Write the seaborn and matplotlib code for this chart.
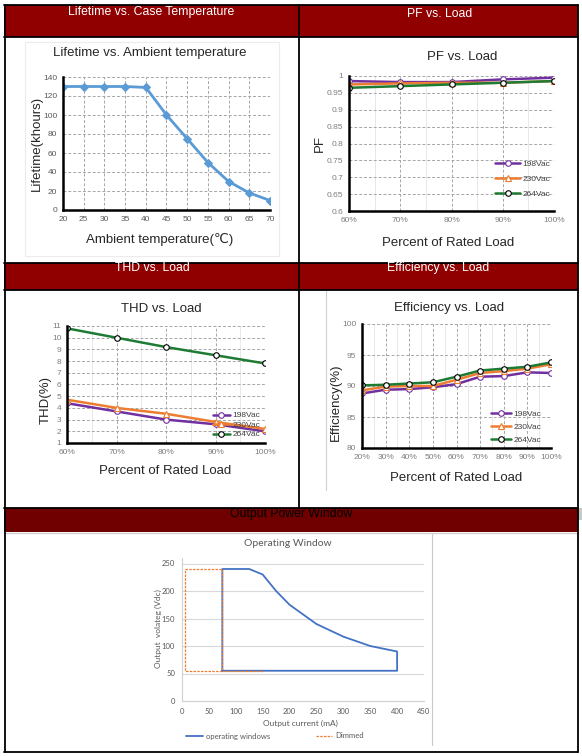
import pandas as pd
import seaborn as sns
import matplotlib.pyplot as plt
from matplotlib.patches import Rectangle
from matplotlib.lines import Line2D
from matplotlib.ticker import MultipleLocator, FuncFormatter

# ---- data ----
temp = [20, 25, 30, 35, 40, 45, 50, 55, 60, 65, 70]
lifetime = [130, 130, 130, 130, 129, 100, 75, 50, 30, 18, 10]

volt_names = ['198Vac', '230Vac', '264Vac']

pf_load = [60, 70, 80, 90, 100]
pf_198 = [0.985, 0.982, 0.982, 0.990, 0.995]
pf_230 = [0.975, 0.978, 0.980, 0.980, 0.985]
pf_264 = [0.965, 0.970, 0.975, 0.980, 0.985]

thd_load = [60, 70, 80, 90, 100]
thd_198 = [4.4, 3.7, 3.0, 2.6, 2.0]
thd_230 = [4.7, 4.0, 3.5, 2.8, 2.2]
thd_264 = [10.8, 10.0, 9.2, 8.5, 7.8]

eff_load = [20, 30, 40, 50, 60, 70, 80, 90, 100]
eff_198 = [88.8, 89.4, 89.5, 89.8, 90.3, 91.5, 91.6, 92.2, 92.1]
eff_230 = [89.3, 89.9, 90.0, 90.0, 91.0, 92.1, 92.4, 92.8, 93.5]
eff_264 = [90.1, 90.2, 90.4, 90.6, 91.5, 92.5, 92.8, 93.1, 93.8]

ow_current = [75, 75, 125, 150, 175, 200, 250, 300, 350, 400, 400, 75]
ow_voltage = [55, 240, 240, 230, 200, 175, 140, 117, 100, 90, 55, 55]
dim_current = [150, 5, 5, 75, 75]
dim_voltage = [55, 55, 240, 240, 55]

W, H = 582, 756
sns.set_style("white")
plt.rcParams['font.family'] = ['Liberation Sans', 'DejaVu Sans']

fig = plt.figure(figsize=(W / 100, H / 100), dpi=100)


def fbox(l, t, r, b):
    return [l / W, 1 - b / H, (r - l) / W, (b - t) / H]


def rect(l, t, r, b, **kw):
    fig.add_artist(Rectangle((l / W, 1 - b / H), (r - l) / W, (b - t) / H,
                             transform=fig.transFigure, **kw))


def line(x0, y0, x1, y1, **kw):
    fig.add_artist(Line2D([x0 / W, x1 / W], [1 - y0 / H, 1 - y1 / H],
                          transform=fig.transFigure, **kw))


def place(ax, box, title, tpos, xlabel, xpos, ylabel, ypos, size=9.5):
    l, t, r, b = box
    ax_x = lambda px: (px - l) / (r - l)
    ax_y = lambda py: (b - py) / (b - t)
    ax.set_title(title, x=ax_x(tpos[0]), y=ax_y(tpos[1]), pad=0, va='center',
                 fontsize=size, color='#262626')
    ax.set_xlabel(xlabel, fontsize=size, va='center', color='#262626')
    ax.xaxis.set_label_coords(ax_x(xpos[0]), ax_y(xpos[1]))
    ax.set_ylabel(ylabel, fontsize=size, va='center', color='#262626')
    ax.yaxis.set_label_coords(ax_x(ypos[0]), ax_y(ypos[1]))


def excel_axes(ax, minor_x=None):
    ax.set_facecolor('none')
    for s in ['top', 'right']:
        ax.spines[s].set_visible(False)
    for s in ['left', 'bottom']:
        ax.spines[s].set_color('black')
        ax.spines[s].set_linewidth(1.8)
    ax.grid(True, which='major', linestyle=(0, (3, 2)), color='#a6a6a6', linewidth=0.7)
    if minor_x:
        ax.xaxis.set_minor_locator(MultipleLocator(minor_x))
        ax.grid(True, which='minor', axis='x', linestyle='-', color='#e4e4e4', linewidth=0.6)
    ax.tick_params(which='both', length=0, labelsize=6, labelcolor='#7f7f7f', pad=4)
    ax.set_axisbelow(True)


# ---- table frame and header bands ----
rect(4, 5, 578, 37, facecolor='#900000', edgecolor='none')
rect(4, 263, 578, 290, facecolor='#900000', edgecolor='none')
rect(4, 508, 578, 532, facecolor='#700000', edgecolor='none')
rect(578, 508, 582, 520, facecolor='#c8c8c8', edgecolor='none')
for y in [5, 37, 263, 290, 508]:
    line(4, y, 578, y, color='black', lw=1.3)
line(4, 533, 578, 533, color='#d0d0d0', lw=1.0)
line(4, 752, 578, 752, color='black', lw=1.3)
line(5, 5, 5, 752, color='black', lw=1.3)
line(578, 5, 578, 752, color='black', lw=1.3)
line(299, 5, 299, 508, color='black', lw=1.3)

hfont = dict(fontsize=8.8, ha='center', va='center',
             family=['Liberation Sans Narrow', 'Liberation Sans'])
fig.text(151 / W, 1 - 12 / H, 'Lifetime vs. Case Temperature', color='white', **hfont)
fig.text(440 / W, 1 - 14 / H, 'PF vs. Load', color='white', **hfont)
fig.text(152 / W, 1 - 268 / H, 'THD vs. Load', color='white', **hfont)
fig.text(438 / W, 1 - 268 / H, 'Efficiency vs. Load', color='white', **hfont)
fig.text(291 / W, 1 - 514 / H, 'Output Power Window', color='black', **hfont)

# faint chart-area borders
rect(25, 42, 279, 256, facecolor='none', edgecolor='#ececec', lw=0.8)
line(326, 291, 326, 490, color='#d0d0d0', lw=0.8)
line(432, 534, 432, 745, color='#c8c8c8', lw=0.8)

colors = {'198Vac': '#7030a0', '230Vac': '#ed7d31', '264Vac': '#1e7b34'}
markers = {'198Vac': 'o', '230Vac': '^', '264Vac': 'o'}
edges = {'198Vac': '#7030a0', '230Vac': '#ed7d31', '264Vac': 'black'}
pct = FuncFormatter(lambda v, p: '%d%%' % v)


def draw_series(ax, x, series, msize):
    for name, y in zip(volt_names, series):
        sns.lineplot(x=x, y=y, ax=ax, color=colors[name], linewidth=1.8,
                     marker=markers[name], markersize=msize, markerfacecolor='white',
                     markeredgecolor=edges[name], markeredgewidth=0.8, label=name)


def volt_legend(ax, x, y, hlen, spacing):
    leg = ax.legend(loc='center left', bbox_to_anchor=(x / W, 1 - y / H),
                    bbox_transform=fig.transFigure, frameon=False, fontsize=6,
                    handlelength=hlen, handletextpad=0.3, labelspacing=spacing,
                    borderpad=0, borderaxespad=0)
    for t in leg.get_texts():
        t.set_color('#404040')


# ---- Lifetime ----
box1 = (63, 77, 270, 210)
ax1 = fig.add_axes(fbox(*box1))
sns.lineplot(x=temp, y=lifetime, ax=ax1, color='#5b9bd5', linewidth=2,
             marker='D', markersize=4, markeredgecolor='#5b9bd5')
ax1.set_xlim(20, 70)
ax1.set_ylim(0, 140)
ax1.set_xticks(temp)
ax1.set_yticks(range(0, 141, 20))
excel_axes(ax1)
ax1.tick_params(labelcolor='#595959')
place(ax1, box1, 'Lifetime vs. Ambient temperature', (150, 53),
      'Ambient temperature(℃)', (160, 240), 'Lifetime(khours)', (37, 143))

# ---- PF ----
box2 = (349, 76, 554, 211)
ax2 = fig.add_axes(fbox(*box2))
draw_series(ax2, pf_load, [pf_198, pf_230, pf_264], 4)
ax2.set_xlim(60, 100)
ax2.set_ylim(0.6, 1.0)
ax2.set_xticks(pf_load)
ax2.set_yticks([0.6, 0.65, 0.7, 0.75, 0.8, 0.85, 0.9, 0.95, 1.0])
ax2.set_yticklabels(['0.6', '0.65', '0.7', '0.75', '0.8', '0.85', '0.9', '0.95', '1'])
ax2.xaxis.set_major_formatter(pct)
excel_axes(ax2, minor_x=5)
volt_legend(ax2, 495, 179, 3.0, 0.85)
place(ax2, box2, 'PF vs. Load', (462, 57), 'Percent of Rated Load', (448, 243),
      'PF', (320, 143))

# ---- THD ----
box3 = (67, 326, 265, 443)
ax3 = fig.add_axes(fbox(*box3))
draw_series(ax3, thd_load, [thd_198, thd_230, thd_264], 4)
ax3.set_xlim(60, 100)
ax3.set_ylim(1, 11)
ax3.set_xticks(thd_load)
ax3.set_yticks(range(1, 12))
ax3.xaxis.set_major_formatter(pct)
excel_axes(ax3, minor_x=5)
volt_legend(ax3, 213, 425, 2.0, 0.2)
place(ax3, box3, 'THD vs. Load', (161, 309), 'Percent of Rated Load', (165, 471),
      'THD(%)', (46, 400))

# ---- Efficiency ----
box4 = (362, 324, 551, 448)
ax4 = fig.add_axes(fbox(*box4))
draw_series(ax4, eff_load, [eff_198, eff_230, eff_264], 4)
ax4.set_xlim(20, 100)
ax4.set_ylim(80, 100)
ax4.set_xticks(eff_load)
ax4.set_yticks([80, 85, 90, 95, 100])
ax4.xaxis.set_major_formatter(pct)
excel_axes(ax4, minor_x=5)
volt_legend(ax4, 491, 427, 2.4, 0.65)
place(ax4, box4, 'Efficiency vs. Load', (449, 308), 'Percent of Rated Load', (456, 478),
      'Efficiency(%)', (336, 402))

# ---- Operating window ----
box5 = (182, 558, 424, 701)
ax5 = fig.add_axes(fbox(*box5))
ax5.set_facecolor('none')
sns.lineplot(x=ow_current, y=ow_voltage, ax=ax5, sort=False, estimator=None,
             color='#4472c4', linewidth=1.3, label='operating windows')
sns.lineplot(x=dim_current, y=dim_voltage, ax=ax5, sort=False, estimator=None,
             color='#ed7d31', linewidth=0.9, linestyle=(0, (2, 1)), label='Dimmed')
ax5.set_xlim(0, 450)
ax5.set_ylim(0, 260)
ax5.set_xticks(range(0, 451, 50))
ax5.set_yticks(range(0, 251, 50))
ax5.xaxis.set_minor_locator(MultipleLocator(10))
ax5.yaxis.set_minor_locator(MultipleLocator(10))
for s in ['top', 'right']:
    ax5.spines[s].set_visible(False)
for s in ['left', 'bottom']:
    ax5.spines[s].set_color('#d0d0d0')
    ax5.spines[s].set_linewidth(0.8)
ax5.grid(True, which='major', axis='y', color='#d9d9d9', linewidth=0.8)
ax5.set_axisbelow(True)
ax5.tick_params(which='major', length=3, color='#d0d0d0', labelsize=5.5,
                labelcolor='#595959', pad=2)
ax5.tick_params(which='minor', length=2, color='#d9d9d9')
for t in ax5.get_xticklabels() + ax5.get_yticklabels():
    t.set_family(['Lato', 'DejaVu Sans'])
leg5 = ax5.legend(loc='center', bbox_to_anchor=(275 / W, 1 - 736 / H),
                  bbox_transform=fig.transFigure, ncol=2, frameon=False,
                  handlelength=2.2, handletextpad=0.4, columnspacing=6,
                  prop={'family': ['Lato', 'DejaVu Sans'], 'size': 5.5})
for t in leg5.get_texts():
    t.set_color('#595959')
l5, t5, r5, b5 = box5
ax5.set_title('Operating Window', x=(288 - l5) / (r5 - l5), y=(b5 - 544) / (b5 - t5),
              pad=0, va='center', fontsize=7.5, color='#595959', family=['Lato', 'DejaVu Sans'])
ax5.set_xlabel('Output current (mA)', fontsize=6, color='#595959', va='center',
               family=['Lato', 'DejaVu Sans'])
ax5.xaxis.set_label_coords((300 - l5) / (r5 - l5), (b5 - 723) / (b5 - t5))
ax5.set_ylabel('Output  volateg (Vdc)', fontsize=6, color='#595959', va='center',
               family=['Lato', 'DejaVu Sans'])
ax5.yaxis.set_label_coords((158 - l5) / (r5 - l5), (b5 - 629) / (b5 - t5))

fig.savefig('out.png', dpi=100, facecolor='white')
